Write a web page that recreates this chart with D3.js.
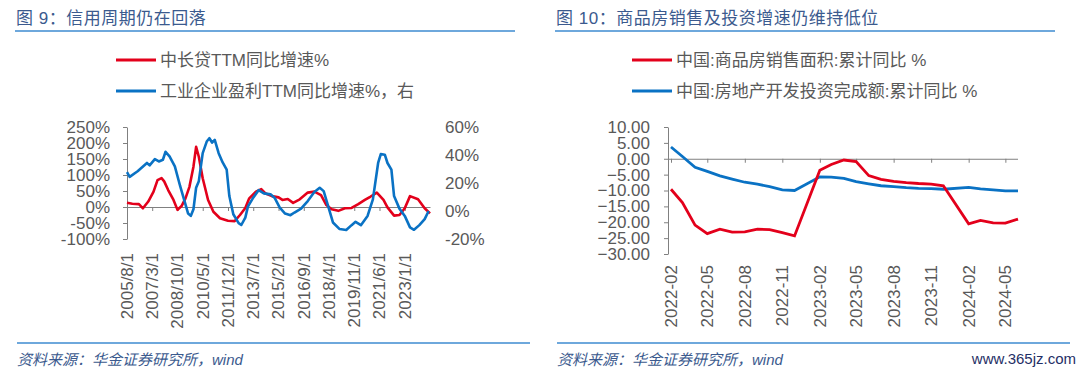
<!DOCTYPE html>
<html>
<head>
<meta charset="utf-8">
<script src="https://cdn.jsdelivr.net/npm/d3@7"></script>
<style>
  body { margin: 0; background: #fff; }
  svg { display: block; font-family: "Liberation Sans", Arial, "Noto Sans CJK SC", sans-serif; }
</style>
</head>
<body>
<svg id="chart" width="1080" height="373"></svg>
<script>
// ---- data: left chart (图9) ----
let loanSeries = [ // 中长贷TTM同比增速%, left axis
  ["2005-08", 13], ["2005-12", 10], ["2006-05", 9], ["2006-08", -4], ["2006-12", 17],
  ["2007-04", 48], ["2007-07", 84], ["2007-10", 90], ["2007-12", 80], ["2008-03", 53],
  ["2008-07", 22], ["2008-10", -9], ["2009-01", 3], ["2009-04", 27], ["2009-07", 63],
  ["2009-10", 126], ["2009-12", 188], ["2010-02", 157], ["2010-05", 90], ["2010-09", 22],
  ["2011-01", -15], ["2011-06", -35], ["2011-12", -43], ["2012-05", -44], ["2012-09", -25],
  ["2013-01", -3], ["2013-04", 27], ["2013-09", 48], ["2014-01", 56], ["2014-04", 43],
  ["2014-09", 34], ["2015-02", 30], ["2015-05", 22], ["2015-09", 25], ["2016-01", 13],
  ["2016-06", 24], ["2016-12", 45], ["2017-05", 48], ["2017-10", 37], ["2018-02", 6],
  ["2018-06", -7], ["2018-11", -12], ["2019-04", -4], ["2019-09", -3], ["2020-02", 9],
  ["2020-07", 22], ["2020-11", 32], ["2021-04", 45], ["2021-09", 22], ["2021-12", -1],
  ["2022-05", -27], ["2022-09", -25], ["2023-01", -4], ["2023-05", 34], ["2023-11", 24],
  ["2024-04", -4], ["2024-08", -20]
];
let profitSeries = [ // 工业企业盈利TTM同比增速%, right axis
  ["2005-08", 27.7], ["2005-10", 24.4], ["2006-04", 28.4], ["2006-11", 34.3], ["2007-01", 32.6],
  ["2007-05", 37], ["2007-08", 35.4], ["2007-11", 36.6], ["2008-01", 42.3], ["2008-04", 39],
  ["2008-08", 31.9], ["2008-12", 17.7], ["2009-04", 4.8], ["2009-06", -1.8], ["2009-08", -3.5],
  ["2009-10", 1.2], ["2009-12", 16.6], ["2010-02", 21.3], ["2010-05", 41.3], ["2010-08", 49.6],
  ["2010-10", 52], ["2010-12", 48.9], ["2011-02", 50.8], ["2011-05", 41.3], ["2011-08", 34.7],
  ["2011-11", 29.6], ["2012-01", 10.7], ["2012-04", -2.3], ["2012-08", -8.7], ["2012-10", -10],
  ["2013-01", -4.7], ["2013-03", 3.1], ["2013-07", 9.5], ["2013-11", 14.9], ["2014-03", 12.6],
  ["2014-08", 11.9], ["2014-11", 9.5], ["2015-03", 2.4], ["2015-07", -1.8], ["2015-11", -3],
  ["2016-02", -1.1], ["2016-07", 1.7], ["2016-12", 7.1], ["2017-05", 13.5], ["2017-09", 16.6],
  ["2017-12", 14.2], ["2018-03", 4.8], ["2018-07", -8.2], ["2018-12", -12.9], ["2019-05", -13.6],
  ["2019-09", -10.1], ["2019-12", -7.7], ["2020-04", -10.1], ["2020-09", -3.5], ["2021-01", 8.3],
  ["2021-05", 34.3], ["2021-07", 40.6], ["2021-10", 40.2], ["2021-12", 34.3], ["2022-03", 29.6],
  ["2022-05", 10.7], ["2022-09", 1.7], ["2023-01", -3.5], ["2023-05", -11.7], ["2023-08", -13.4],
  ["2023-12", -10.1], ["2024-04", -5.8], ["2024-07", 0]
];
let leftTickLabels = ["2005/8/1", "2007/3/1", "2008/10/1", "2010/5/1", "2011/12/1", "2013/7/1",
  "2015/2/1", "2016/9/1", "2018/4/1", "2019/11/1", "2021/6/1", "2023/1/1"];
let leftAxisTicks = [-100, -50, 0, 50, 100, 150, 200, 250];
let rightAxisTicks = [-20, 0, 20, 40, 60];

// ---- data: right chart (图10) ----
let months = ["2022-02", "2022-03", "2022-04", "2022-05", "2022-06", "2022-07", "2022-08", "2022-09",
  "2022-10", "2022-11", "2022-12", "2023-02", "2023-03", "2023-04", "2023-05", "2023-06", "2023-07",
  "2023-08", "2023-09", "2023-10", "2023-11", "2023-12", "2024-02", "2024-03", "2024-04", "2024-05", "2024-06"];
let salesArea = [-9.6, -13.8, -20.9, -23.6, -22.2, -23.1, -23.0, -22.2, -22.3, -23.3, -24.3,
  -3.6, -1.8, -0.4, -0.9, -5.3, -6.5, -7.1, -7.5, -7.8, -8.0, -8.5, -20.5, -19.4, -20.2, -20.3, -19.0];
let investment = [3.7, 0.7, -2.7, -4.0, -5.4, -6.4, -7.4, -8.0, -8.8, -9.8, -10.0,
  -5.7, -5.8, -6.2, -7.2, -7.9, -8.5, -8.8, -9.1, -9.3, -9.4, -9.6, -9.0, -9.5, -9.8, -10.1, -10.1];
let rightTickLabels = ["2022-02", "2022-05", "2022-08", "2022-11", "2023-02", "2023-05",
  "2023-08", "2023-11", "2024-02", "2024-05"];
let estateTicks = [-30, -25, -20, -15, -10, -5, 0, 5, 10];

const RED = "#e3001b", BLUE = "#0a72c4", GREY = "#595959", AXIS = "#808080";
const TITLE = "#3b5a8e", RULE = "#6ea8dc";

let svg = d3.select("#chart");
let parseM = d3.timeParse("%Y-%m");
let parseD = d3.timeParse("%Y/%m/%d");

// headers, rules, footers
function frame(x0, x1, title) {
  svg.append("text").attr("x", x0 + 1).attr("y", 24).attr("fill", TITLE)
    .style("font-size", "17px").style("letter-spacing", "0.5px").text(title);
  svg.append("line").attr("x1", x0).attr("x2", x1).attr("y1", 31).attr("y2", 31)
    .attr("stroke", RULE).attr("stroke-width", 2);
  svg.append("line").attr("x1", x0 + 2).attr("x2", x1 + 15).attr("y1", 343).attr("y2", 343)
    .attr("stroke", RULE).attr("stroke-width", 2);
  svg.append("text").attr("x", x0 + 2).attr("y", 365).attr("fill", TITLE)
    .style("font-size", "15px").style("font-style", "italic").text("资料来源：华金证券研究所，wind");
}
frame(15, 515, "图 9：信用周期仍在回落");
frame(555, 1055, "图 10：商品房销售及投资增速仍维持低位");
svg.append("text").attr("x", 1076).attr("y", 364).attr("text-anchor", "end")
  .attr("fill", "#1f2f66").style("font-size", "15px").text("www.365jz.com");

function legend(x, y, color, label) {
  svg.append("line").attr("x1", x).attr("x2", x + 40).attr("y1", y).attr("y2", y)
    .attr("stroke", color).attr("stroke-width", 3);
  svg.append("text").attr("x", x + 44).attr("y", y).attr("dy", "0.35em").attr("fill", GREY)
    .style("font-size", "17px").text(label);
}
legend(116, 60, RED, "中长贷TTM同比增速%");
legend(116, 91, BLUE, "工业企业盈利TTM同比增速%，右");
legend(632, 60, RED, "中国:商品房销售面积:累计同比 %");
legend(632, 91, BLUE, "中国:房地产开发投资完成额:累计同比 %");

function styleAxis(g) {
  g.select(".domain").attr("stroke", AXIS);
  g.selectAll(".tick line").attr("stroke", AXIS);
  g.selectAll(".tick text").attr("fill", GREY).style("font-size", "17px")
    .style("font-family", "'Liberation Sans', Arial, sans-serif");
}

// ---- left chart ----
let xL = d3.scaleTime().domain([parseM("2005-08"), parseM("2024-08")]).range([127, 430]);
let yL = d3.scaleLinear().domain([-100, 250]).range([239, 127]);
let yR = d3.scaleLinear().domain([-20, 60]).range([239, 127]);

svg.append("g").attr("transform", "translate(127,0)")
  .call(d3.axisLeft(yL).tickValues(leftAxisTicks).tickSize(4).tickSizeOuter(0).tickPadding(13)
    .tickFormat(d => d + "%"))
  .call(styleAxis);

svg.append("g").attr("transform", `translate(0,${yL(0)})`)
  .call(d3.axisBottom(xL).tickValues(leftTickLabels.map(parseD)).tickSize(4).tickSizeOuter(0)
    .tickFormat(""))
  .call(styleAxis);

svg.selectAll(".lx").data(leftTickLabels).enter().append("text")
  .attr("class", "lx")
  .attr("transform", d => `translate(${xL(parseD(d))},253) rotate(-90)`)
  .attr("text-anchor", "end").attr("dy", "0.35em").attr("fill", GREY)
  .style("font-size", "17px").text(d => d);

svg.selectAll(".ry").data(rightAxisTicks).enter().append("text")
  .attr("class", "ry").attr("x", 445).attr("y", d => yR(d)).attr("dy", "0.35em")
  .attr("fill", GREY).style("font-size", "17px").text(d => d + "%");

svg.append("path").datum(loanSeries)
  .attr("fill", "none").attr("stroke", RED).attr("stroke-width", 2.6).attr("stroke-linejoin", "round")
  .attr("d", d3.line().x(d => xL(parseM(d[0]))).y(d => yL(d[1])));
svg.append("path").datum(profitSeries)
  .attr("fill", "none").attr("stroke", BLUE).attr("stroke-width", 2.6).attr("stroke-linejoin", "round")
  .attr("d", d3.line().x(d => xL(parseM(d[0]))).y(d => yR(d[1])));

// ---- right chart ----
let x2 = d3.scaleTime().domain([parseM("2022-02"), parseM("2024-06")]).range([671, 1018]);
let y2 = d3.scaleLinear().domain([-30, 10]).range([254, 127]);

svg.append("g").attr("transform", "translate(668,0)")
  .call(d3.axisLeft(y2).tickValues(estateTicks).tickSize(4).tickSizeOuter(0).tickPadding(14)
    .tickFormat(d3.format(".2f")))
  .call(styleAxis);

svg.append("g").attr("transform", `translate(0,${y2(0)})`)
  .call(d3.axisBottom(x2).tickValues(rightTickLabels.map(parseM)).tickSize(4).tickSizeOuter(0)
    .tickFormat(""))
  .call(styleAxis)
  .call(g => g.select(".domain").attr("d", `M668,0.5H1018`));

svg.selectAll(".rx").data(rightTickLabels).enter().append("text")
  .attr("class", "rx")
  .attr("transform", d => `translate(${x2(parseM(d))},265) rotate(-90)`)
  .attr("text-anchor", "end").attr("dy", "0.35em").attr("fill", GREY)
  .style("font-size", "17px").text(d => d);

let line2 = d3.line().x((d, i) => x2(parseM(months[i]))).y(d => y2(d));
svg.append("path").datum(investment)
  .attr("fill", "none").attr("stroke", BLUE).attr("stroke-width", 2.8).attr("d", line2);
svg.append("path").datum(salesArea)
  .attr("fill", "none").attr("stroke", RED).attr("stroke-width", 2.8).attr("d", line2);
</script>
</body>
</html>
